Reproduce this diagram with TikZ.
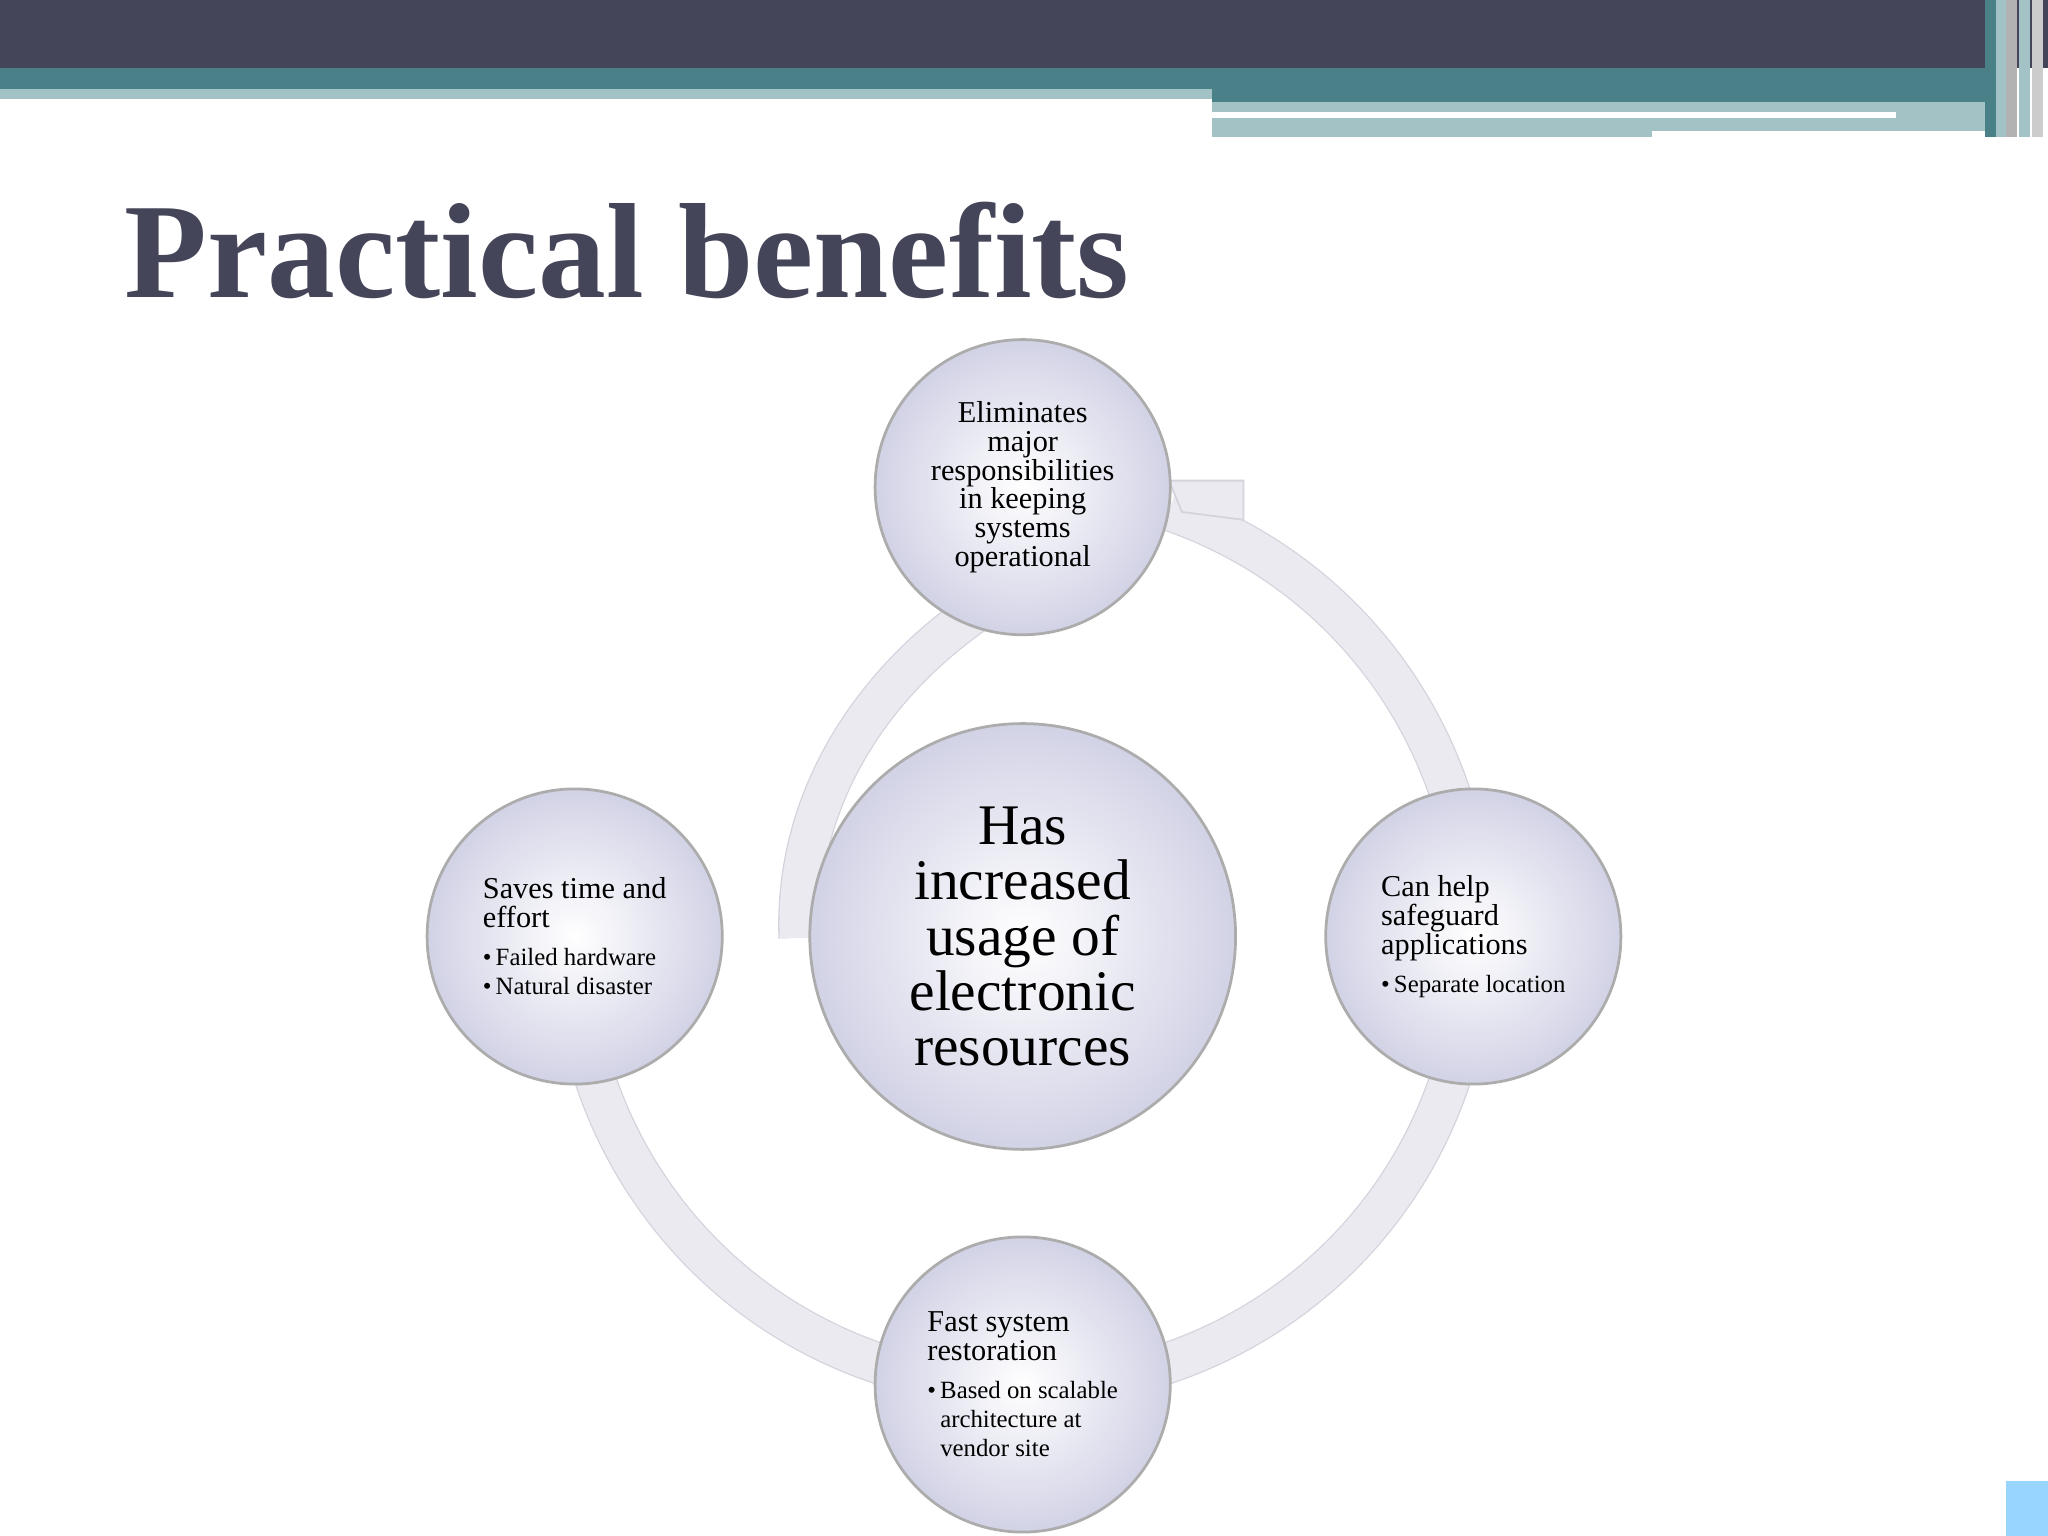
\documentclass[tikz,border=0pt]{standalone}
\usepackage{fontspec}
\setmainfont{Liberation Serif}
\newfontfamily\bodyf{Liberation Serif}
\usetikzlibrary{shadings}
\definecolor{dark}{HTML}{45455A}
\definecolor{teal}{HTML}{4A8088}
\definecolor{lteal}{HTML}{A3C2C6}
\definecolor{ringc}{HTML}{EAEAF0}
\definecolor{ringe}{HTML}{D4D4DE}
\definecolor{cfill}{HTML}{D2D2E6}
\tikzset{
 bubble/.style={circle,draw=gray!65,line width=0.6pt,inner sep=0pt,inner color=white,outer color=cfill,align=left,font=\bodyf\fontsize{6.6}{6.3}\selectfont,text=black},
 ring/.style={line width=30*0.01cm,color=ringc},
}
\newcommand{\smt}{\fontsize{5.4}{5.2}\selectfont}
\begin{document}
\begin{tikzpicture}[x=0.01cm,y=-0.01cm]
\useasboundingbox (0,0) rectangle (1568,1176);
% header
\fill[dark] (0,0) rectangle (1568,52);
\fill[teal] (0,52) rectangle (1520,68);
\fill[lteal] (0,68) rectangle (928,76);
\fill[teal] (928,68) rectangle (1520,78);
\fill[lteal] (928,78) rectangle (1520,105);
\fill[white] (928,86) rectangle (1452,90);
\fill[white] (1265,100) rectangle (1520,105);
\foreach \x/\c in {1520/teal,1528/lteal,1536/gray!60,1546/lteal,1556/gray!40}
  \fill[\c] (\x,0) rectangle ++(8,105);
\fill[blue!40!cyan!40] (1536,1134) rectangle (1568,1176);
% title
\node[anchor=base west,inner sep=0pt,text=dark,font=\bfseries\fontsize{29.5}{29.5}\selectfont] (title) at (95,228) {Practical benefits};
% ring
\draw[ringe,line width=32*0.01cm] (783,717) ++(-71:345) arc[start angle=-71,end angle=180,radius=345];
\draw[ring] (783,717) ++(-71:345) arc[start angle=-71,end angle=180,radius=345];
\draw[ringe,line width=32*0.01cm] (745,470) .. controls (660,530) and (608,620) .. (612,718);
\draw[ring] (745,470) .. controls (660,530) and (608,620) .. (612,718);
\fill[ringc,draw=ringe] (895,368) -- (952,368) -- (952,398) -- (905,392) -- cycle;
% nodes
\node[bubble,minimum size=226*0.01cm,align=center] (top) at (783,373) {Eliminates\\major\\responsibilities\\in keeping\\systems\\operational};
\node[bubble,minimum size=326*0.01cm,align=center,font=\bodyf\fontsize{12.5}{12}\selectfont] (ctr) at (783,717) {Has\\increased\\usage of\\electronic\\resources};
\node[bubble,minimum size=226*0.01cm] (lft) at (440,717) {Saves time and\\effort\\[2pt]{\smt\textbullet\,Failed hardware}\\{\smt\textbullet\,Natural disaster}};
\node[bubble,minimum size=226*0.01cm] (rgt) at (1128,717) {Can help\\safeguard\\applications\\[2pt]{\smt\textbullet\,Separate location}};
\node[bubble,minimum size=226*0.01cm] (bot) at (783,1060) {Fast system\\restoration\\[2pt]{\smt\textbullet\,Based on scalable}\\{\smt\phantom{\textbullet}\,architecture at}\\{\smt\phantom{\textbullet}\,vendor site}};
\end{tikzpicture}
\end{document}
